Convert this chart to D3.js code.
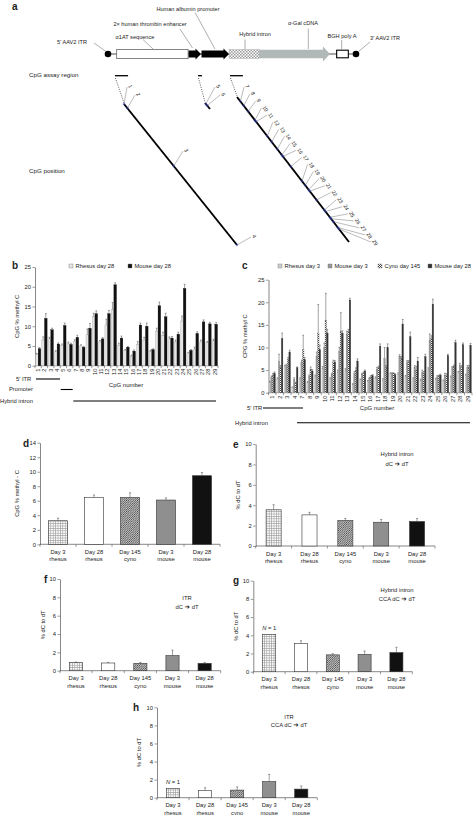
<!DOCTYPE html>
<html><head><meta charset="utf-8">
<script src="https://cdn.jsdelivr.net/npm/d3@7"></script>
<style>body{margin:0;background:#fff}svg text{font-family:"Liberation Sans",Arial,Helvetica,sans-serif;fill:#222}</style>
</head><body>
<script>
// ---------------- DATA ----------------
const cpgB = d3.range(1, 30).map(String);
const rhesus28B = [2.8,6.5,6.8,3.5,5.2,5.6,6.2,5.0,7.8,12.5,6.0,10.3,14.2,5.2,3.8,2.4,5.3,6.5,3.6,8.7,7.6,6.8,6.0,11.3,3.2,4.2,6.0,5.8,6.3];
const rhesus28BErr = [0.3,0.8,0.4,0.3,0.3,0.4,0.4,0.3,1.5,0.8,0.4,1.5,1.8,0.5,0.3,0.3,0.8,0.7,0.3,0.8,0.9,0.5,0.5,1.3,0.2,0.5,0.5,0.3,0.4];
const mouse28B = [4.3,12.0,9.1,5.5,10.2,5.4,7.2,4.7,9.5,13.2,6.8,13.2,20.5,7.0,4.7,3.7,10.3,10.0,4.1,15.2,12.4,7.0,8.0,19.6,3.9,8.2,11.1,10.6,10.5];
const mouse28BErr = [0.3,1.2,0.4,0.3,0.6,0.3,0.5,0.2,1.2,0.7,0.3,0.8,0.5,0.5,0.2,0.3,0.5,0.8,0.2,0.9,0.9,0.4,0.5,1.0,0.2,0.4,0.5,0.4,0.4];

const cpgC = ["1","2","3","4","7","8","9","10","11","12","13","14","15","16","17","18","19","20","21","22","23","24","25","26","27","28","29"];
const rhesus3C = [2.3,3.0,5.9,1.2,3.0,2.3,3.6,5.3,3.0,4.5,4.8,1.8,2.8,2.5,3.2,2.8,4.2,4.0,3.5,3.0,2.7,5.0,3.0,2.6,3.4,4.4,3.8];
const rhesus3CErr = [0.2,0.3,0.2,0.1,0.3,0.2,0.3,0.5,0.3,0.5,0.5,0.2,0.2,0.2,0.3,0.3,0.2,0.4,0.3,0.3,0.3,0.5,0.2,0.2,0.3,0.3,0.3];
const mouse3C = [3.4,7.0,6.0,3.0,6.7,3.6,8.0,10.0,4.0,9.2,12.8,4.2,4.0,3.2,5.2,7.6,4.2,8.0,6.8,5.5,4.5,11.5,3.5,3.8,5.5,6.0,5.5];
const mouse3CErr = [0.3,1.5,0.3,0.3,0.5,0.3,1.0,1.0,0.3,0.8,0.8,0.5,0.3,0.2,0.4,2.4,0.2,0.4,0.3,0.5,0.5,1.5,0.3,0.5,0.3,0.5,0.5];
const cyno145C = [3.9,5.5,7.4,2.0,9.5,5.2,13.2,16.0,6.8,13.5,13.5,5.0,4.3,3.5,5.5,5.5,4.2,7.5,6.8,5.0,4.3,12.0,3.6,3.8,5.8,5.5,5.5];
const cyno145CErr = [0.4,0.5,0.4,0.3,3.2,0.5,6.3,6.0,0.4,4.2,0.5,0.5,0.3,0.3,0.4,0.5,0.2,0.5,0.3,0.8,0.4,0.6,0.3,0.4,0.3,0.5,0.5];
const mouse28C = [4.3,12.0,9.0,5.5,7.3,4.8,9.5,13.2,6.8,13.2,20.5,7.0,4.8,3.8,10.3,10.0,4.0,15.2,12.4,7.0,8.0,19.6,3.9,8.2,11.1,10.6,10.5];
const mouse28CErr = [0.3,1.2,0.4,0.2,0.5,0.3,1.0,0.8,0.3,0.5,0.4,0.5,0.2,0.2,0.5,0.8,0.2,1.0,1.0,0.8,0.5,1.1,0.2,0.3,0.5,0.4,0.4];

const groups5 = ["Day 3|rhesus","Day 28|rhesus","Day 145|cyno","Day 3|mouse","Day 28|mouse"];
const dVals = [3.25,6.45,6.45,6.1,9.45], dErr = [0.35,0.35,0.65,0.3,0.45];
const eVals = [3.55,3.05,2.5,2.33,2.4],  eErr = [0.5,0.25,0.2,0.27,0.3];
const fVals = [0.9,0.84,0.8,1.64,0.8],   fErr = [0.05,0.06,0.1,0.6,0.1];
const gVals = [4.1,3.1,1.85,1.9,2.1],    gErr = [0,0.3,0.13,0.37,0.58];
const hVals = [1.02,0.8,0.84,1.78,0.95], hErr = [0,0.3,0.36,0.8,0.35];

// construct (panel a), positions in relative construct units 0..100
const constructEls = [
  {name:"α1AT sequence", s:3.5, e:32.3, kind:"box"},
  {name:"enhancer", s:32.3, e:37.5, kind:"blackArrow"},
  {name:"promoter", s:37.5, e:48.8, kind:"blackArrow"},
  {name:"Hybrid intron", s:48.8, e:60.9, kind:"check"},
  {name:"α-Gal cDNA", s:60.9, e:89.5, kind:"greyArrow"},
  {name:"BGH poly A", s:92.2, e:96.9, kind:"bgh"}
];
const assayRegions = [{s:2.8,e:8.1},{s:36.3,e:37.9},{s:49.2,e:54.4}];
const cpgNames = d3.range(1,30).map(String);
const cpgSeg = [0,0,0,0,1,1,2,2,2,2,2,2,2,2,2,2,2,2,2,2,2,2,2,2,2,2,2,2,2];
const cpgT = [0.0,0.03,0.44,1.0,0.15,0.45,0.03,0.06,0.1,0.16,0.17,0.27,0.31,0.36,0.4,0.41,0.48,0.58,0.61,0.64,0.65,0.71,0.78,0.79,0.83,0.84,0.86,0.9,0.91];

// ---------------- DRAW ----------------
const W = 474, H = 815;
const svg = d3.select("body").append("svg").attr("width", W).attr("height", H);
const defs = svg.append("defs");
function pat(id, size, draw) {
  const p = defs.append("pattern").attr("id", id).attr("patternUnits", "userSpaceOnUse")
    .attr("width", size).attr("height", size);
  p.append("rect").attr("width", size).attr("height", size).attr("fill", "#fff");
  draw(p);
}
pat("grid", 2.4, p => p.append("path").attr("d", "M0,0.3H2.4M0.3,0V2.4").attr("stroke", "#9a9a9a").attr("stroke-width", 0.7));
pat("hatch", 2.2, p => p.append("path").attr("d", "M0,2.2L2.2,0M-0.6,0.6L0.6,-0.6M1.6,2.8L2.8,1.6").attr("stroke", "#333").attr("stroke-width", 0.85));
pat("check", 3, p => { p.append("rect").attr("width",1.5).attr("height",1.5).attr("fill","#9a9a9a");
  p.append("rect").attr("x",1.5).attr("y",1.5).attr("width",1.5).attr("height",1.5).attr("fill","#9a9a9a"); });
pat("cdots", 2, p => { p.append("rect").attr("width",1).attr("height",1).attr("fill","#444");
  p.append("rect").attr("x",1).attr("y",1).attr("width",1).attr("height",1).attr("fill","#444"); });

function txt(g, x, y, s, size, opts = {}) {
  const t = g.append("text").attr("x", x).attr("y", y).attr("font-size", size).text(s);
  if (opts.anchor) t.attr("text-anchor", opts.anchor);
  if (opts.bold) t.attr("font-weight", "bold");
  if (opts.rotate !== undefined) t.attr("transform", `rotate(${opts.rotate},${x},${y})`);
  if (opts.dmid) t.attr("dominant-baseline", "middle");
  return t;
}

// ===== Panel a =====
const ga = svg.append("g");
txt(ga, 12, 10, "a", 10, {bold:true});
const xa = d3.scaleLinear().domain([0, 100]).range([108, 356]);
const yL = 54;
ga.append("line").attr("x1", xa(0)).attr("x2", xa(100)).attr("y1", yL).attr("y2", yL).attr("stroke", "#8a8a8a").attr("stroke-width", 1.6);
function arrowPts(x1, x2, bh, hh, hl) {
  return [[x1, yL-bh],[x2-hl, yL-bh],[x2-hl, yL-hh],[x2, yL],[x2-hl, yL+hh],[x2-hl, yL+bh],[x1, yL+bh]];
}
constructEls.forEach(el => {
  const a = xa(el.s), b = xa(el.e);
  if (el.kind === "box") ga.append("rect").attr("x", a).attr("y", yL-4.6).attr("width", b-a).attr("height", 9.2).attr("fill", "#fff").attr("stroke", "#666").attr("stroke-width", 0.8);
  if (el.kind === "blackArrow") ga.append("polygon").attr("points", arrowPts(a+0.5, b, 3.6, 5.6, 5.5).join(" ")).attr("fill", "#000");
  if (el.kind === "check") ga.append("rect").attr("x", a).attr("y", yL-4.4).attr("width", b-a).attr("height", 8.8).attr("fill", "url(#check)").attr("stroke", "#999").attr("stroke-width", 0.4);
  if (el.kind === "greyArrow") ga.append("polygon").attr("points", arrowPts(a, b, 4.3, 7.5, 7).join(" ")).attr("fill", "#b1b8b8");
  if (el.kind === "bgh") ga.append("rect").attr("x", a).attr("y", yL-3.8).attr("width", b-a).attr("height", 7.6).attr("fill", "#fff").attr("stroke", "#000").attr("stroke-width", 1.1);
});
[0, 100].forEach(v => ga.append("circle").attr("cx", xa(v)).attr("cy", yL).attr("r", 3.3).attr("fill", "#000"));

const aLabels = [
  {t:"5′ AAV2 ITR", x:72, y:43, l:[[94,43],[106,51.5]]},
  {t:"α1AT sequence", x:135, y:37.5, l:[[143,39.5],[153,49]]},
  {t:"2× human thrombin enhancer", x:150, y:25, l:[[180,29],[192.5,48]]},
  {t:"Human albumin promoter", x:188, y:9.5, l:[[195,12.5],[215,49]]},
  {t:"Hybrid intron", x:255, y:35, l:[[245,39.5],[245,49.5]]},
  {t:"α-Gal cDNA", x:303, y:24, l:[[308.3,28.5],[308.3,49]]},
  {t:"BGH poly A", x:342, y:36.5, l:[[341.7,40],[341.7,50]]},
  {t:"3′ AAV2 ITR", x:385, y:38.5, l:[[370,42],[358.5,51.5]]}
];
aLabels.forEach(d => {
  txt(ga, d.x, d.y, d.t, 5.6, {anchor:"middle", dmid:true});
  ga.append("line").attr("x1", d.l[0][0]).attr("y1", d.l[0][1]).attr("x2", d.l[1][0]).attr("y2", d.l[1][1]).attr("stroke", "#777").attr("stroke-width", 0.6);
});
txt(ga, 29, 75, "CpG assay region", 6.2, {dmid:true});
txt(ga, 29, 171, "CpG position", 6.2, {dmid:true});
assayRegions.forEach(r => ga.append("line").attr("x1", xa(r.s)).attr("x2", xa(r.e)).attr("y1", 75.7).attr("y2", 75.7).attr("stroke", "#000").attr("stroke-width", 1.3));

const segs = [ {a:[124,104], b:[237,245]}, {a:[205,103], b:[210,109]}, {a:[237,97], b:[349,242]} ];
assayRegions.forEach((r, i) => ga.append("line").attr("x1", xa(r.s)+0.5).attr("y1", 78).attr("x2", segs[i].a[0]).attr("y2", segs[i].a[1]-1)
  .attr("stroke", "#333").attr("stroke-width", 0.8).attr("stroke-dasharray", "1,1.3"));
segs.forEach(s => ga.append("line").attr("x1", s.a[0]).attr("y1", s.a[1]).attr("x2", s.b[0]).attr("y2", s.b[1]).attr("stroke", "#000").attr("stroke-width", 1.9));
const lblPos = [];
const fixed = {0:[128,86],1:[136,94],2:[184,150],3:[252,236],4:[216,86],5:[221,94]};
cpgNames.forEach((n, i) => {
  if (fixed[i]) lblPos.push(fixed[i]);
  else { const k = (i - 6) / 22; lblPos.push([245 + k * 127, 86 + k * 155]); }
});
cpgNames.forEach((n, i) => {
  const s = segs[cpgSeg[i]], t = cpgT[i];
  const px = s.a[0] + t * (s.b[0] - s.a[0]), py = s.a[1] + t * (s.b[1] - s.a[1]);
  const [lx, ly] = lblPos[i];
  ga.append("line").attr("x1", px).attr("y1", py).attr("x2", lx - 1).attr("y2", ly + 1).attr("stroke", "#666").attr("stroke-width", 0.45);
  ga.append("circle").attr("cx", px).attr("cy", py).attr("r", 0.9).attr("fill", "none").attr("stroke", "#3344cc").attr("stroke-width", 0.5);
  txt(ga, lx, ly, n, 5.2, {rotate:60});
});

// ===== helpers for axes =====
function yAxis(g, x0, y, ticks, title, tx) {
  const ax = g.append("g").attr("transform", `translate(${x0},0)`)
    .call(d3.axisLeft(y).tickValues(ticks).tickSize(2.5).tickSizeOuter(0).tickFormat(d3.format("d")));
  ax.select(".domain").attr("stroke", "#555").attr("stroke-width", 0.7);
  ax.selectAll(".tick line").attr("stroke", "#555").attr("stroke-width", 0.6);
  ax.selectAll(".tick text").attr("font-size", 5.8).attr("fill", "#333").attr("x", -4);
  const [y0, y1] = y.range();
  txt(g, tx, (y0 + y1) / 2, title, 5.8, {anchor:"middle", rotate:-90});
}
function xBase(g, x, y0, boundaries) {
  const [a, b] = x.range();
  g.append("line").attr("x1", a).attr("x2", b).attr("y1", y0).attr("y2", y0).attr("stroke", "#555").attr("stroke-width", 0.7);
  if (boundaries) {
    const n = x.domain().length, st = (b - a) / n;
    d3.range(n + 1).forEach(i => g.append("line").attr("x1", a + i * st).attr("x2", a + i * st).attr("y1", y0).attr("y2", y0 + 2.5).attr("stroke", "#555").attr("stroke-width", 0.6));
  }
}
function errBar(g, cx, yv, ye, cap) {
  if (Math.abs(yv - ye) < 0.3) return;
  g.append("line").attr("x1", cx).attr("x2", cx).attr("y1", yv).attr("y2", ye).attr("stroke", "#444").attr("stroke-width", 0.5);
  g.append("line").attr("x1", cx - cap).attr("x2", cx + cap).attr("y1", ye).attr("y2", ye).attr("stroke", "#444").attr("stroke-width", 0.5);
}

// ===== grouped panels (b, c) =====
function grouped(cfg) {
  const g = svg.append("g");
  const x = d3.scaleBand().domain(cfg.cats).range([cfg.x0, cfg.x1]).paddingInner(cfg.pad).paddingOuter(cfg.pad / 2);
  const xs = d3.scaleBand().domain(d3.range(cfg.series.length)).range([0, x.bandwidth()]);
  const y = d3.scaleLinear().domain([0, 25]).range([cfg.y0, cfg.yT]);
  yAxis(g, cfg.x0, y, [0,5,10,15,20,25], cfg.title, cfg.tx);
  xBase(g, x, cfg.y0, true);
  cfg.series.forEach((s, si) => {
    cfg.cats.forEach((c, i) => {
      const bx = x(c) + xs(si), bw = xs.bandwidth();
      g.append("rect").attr("x", bx).attr("y", y(s.vals[i])).attr("width", bw).attr("height", y(0) - y(s.vals[i]))
        .attr("fill", s.fill).attr("stroke", s.stroke).attr("stroke-width", 0.3);
      errBar(g, bx + bw / 2, y(s.vals[i]), y(s.vals[i] + s.errs[i]), 0.9);
    });
  });
  cfg.cats.forEach(c => txt(g, x(c) + x.bandwidth() / 2 + 1.8, cfg.y0 + 3, c, 5.6, {anchor:"end", rotate:-90}));
  cfg.series.forEach(s => {
    g.append("rect").attr("x", s.lx).attr("y", cfg.ly - 2).attr("width", 4).attr("height", 4).attr("fill", s.fill).attr("stroke", "#777").attr("stroke-width", 0.4);
    txt(g, s.lx + 6.5, cfg.ly, s.name, 5.8, {dmid:true});
  });
  return {g, x, y};
}

const pb = grouped({cats: cpgB, x0: 35, x1: 218, y0: 365.7, yT: 267, pad: 0.16, title: "CpG % methyl C", tx: 19, ly: 266,
  series: [
    {name: "Rhesus day 28", vals: rhesus28B, errs: rhesus28BErr, fill: "#e4e4e4", stroke: "#999", lx: 69},
    {name: "Mouse day 28", vals: mouse28B, errs: mouse28BErr, fill: "#111", stroke: "#111", lx: 128}
  ]});
txt(pb.g, 12, 268.5, "b", 10, {bold:true});
txt(pb.g, 126, 385, "CpG number", 6, {anchor:"middle", dmid:true});
[["5′ ITR", 379, 36, 60], ["Promoter", 389.5, 60.7, 72.7], ["Hybrid intron", 401, 73.3, 216]].forEach(([t, yy, a, b]) => {
  txt(pb.g, t === "Hybrid intron" ? 0 : (t === "Promoter" ? 9 : 16), yy, t, 5.8, {dmid:true});
  pb.g.append("line").attr("x1", a).attr("x2", b).attr("y1", yy).attr("y2", yy).attr("stroke", "#000").attr("stroke-width", 1.1);
});

const pc = grouped({cats: cpgC, x0: 268.5, x1: 472, y0: 392.7, yT: 279.7, pad: 0.18, title: "CPG % methyl C", tx: 247, ly: 266,
  series: [
    {name: "Rhesus day 3", vals: rhesus3C, errs: rhesus3CErr, fill: "#cdcdcd", stroke: "#aaa", lx: 278},
    {name: "Mouse day 3", vals: mouse3C, errs: mouse3CErr, fill: "#969696", stroke: "#888", lx: 328},
    {name: "Cyno day 145", vals: cyno145C, errs: cyno145CErr, fill: "url(#cdots)", stroke: "#666", lx: 378},
    {name: "Mouse day 28", vals: mouse28C, errs: mouse28CErr, fill: "#333", stroke: "#333", lx: 428}
  ]});
txt(pc.g, 242, 269, "c", 10, {bold:true});
txt(pc.g, 377, 408, "CpG number", 6, {anchor:"middle", dmid:true});
txt(pc.g, 247, 408, "5′ ITR", 5.8, {dmid:true});
pc.g.append("line").attr("x1", 263).attr("x2", 303).attr("y1", 408).attr("y2", 408).attr("stroke", "#000").attr("stroke-width", 1.1);
txt(pc.g, 235, 423, "Hybrid intron", 5.8, {dmid:true});
pc.g.append("line").attr("x1", 297).attr("x2", 470).attr("y1", 422.7).attr("y2", 422.7).attr("stroke", "#000").attr("stroke-width", 1.1);

// ===== simple panels (d-h) =====
const fills5 = ["url(#grid)", "#fff", "url(#hatch)", "#8f8f8f", "#111"];
function note(g, x, y, parts) {
  const t = g.append("text").attr("x", x).attr("y", y).attr("text-anchor", "middle").attr("dominant-baseline", "middle").attr("font-size", 5.8);
  parts.forEach(p => {
    const sp = t.append("tspan").text(p);
    if (p.includes("➔")) sp.attr("font-family", "DejaVu Sans").attr("font-size", 6.5);
  });
}
function simple(cfg) {
  const g = svg.append("g");
  const x = d3.scaleBand().domain(groups5).range([cfg.x0, cfg.x1]).paddingInner(cfg.pad).paddingOuter(cfg.pad / 2);
  const y = d3.scaleLinear().domain([0, cfg.max]).range([cfg.y0, cfg.yT]);
  yAxis(g, cfg.x0, y, d3.range(0, cfg.max + 0.01, 2), cfg.title, cfg.tx);
  xBase(g, x, cfg.y0, true);
  groups5.forEach((c, i) => {
    const v = cfg.vals[i];
    g.append("rect").attr("x", x(c)).attr("y", y(v)).attr("width", x.bandwidth()).attr("height", y(0) - y(v))
      .attr("fill", fills5[i]).attr("stroke", "#333").attr("stroke-width", 0.6);
    if (cfg.errs[i] > 0) errBar(g, x(c) + x.bandwidth() / 2, y(v), y(v + cfg.errs[i]), 1.1);
    const [l1, l2] = c.split("|");
    txt(g, x(c) + x.bandwidth() / 2, cfg.y0 + 9.5, l1, 5.8, {anchor:"middle"});
    txt(g, x(c) + x.bandwidth() / 2, cfg.y0 + 17, l2, 5.8, {anchor:"middle"});
  });
  txt(g, cfg.lbl[0], cfg.lbl[1], cfg.lbl[2], 10, {bold:true});
  (cfg.notes || []).forEach(n => note(g, n[0], n[1], n[2]));
  if (cfg.n1) {
    const t = g.append("text").attr("x", x(groups5[0]) + x.bandwidth() / 2).attr("y", y(cfg.vals[0]) - 4).attr("text-anchor", "middle").attr("font-size", 5.8);
    t.append("tspan").attr("font-style", "italic").text("N");
    t.append("tspan").text(" = 1");
  }
  return g;
}
simple({x0: 40, x1: 220, y0: 544.3, yT: 442.7, max: 14, vals: dVals, errs: dErr, pad: 0.47, title: "CpG % methyl - C", tx: 19, lbl: [23, 447, "d"]});
simple({x0: 255.7, x1: 435, y0: 546, yT: 444, max: 10, vals: eVals, errs: eErr, pad: 0.58, title: "% dC to dT", tx: 239.5, lbl: [233, 448, "e"],
  notes: [[397, 453.5, ["Hybrid intron"]], [397, 463.5, ["dC ", "➔", " dT"]]]});
simple({x0: 60, x1: 220.7, y0: 670.7, yT: 579, max: 10, vals: fVals, errs: fErr, pad: 0.59, title: "% dC to dT", tx: 45, lbl: [44, 583, "f"],
  notes: [[187, 597.5, ["ITR"]], [187, 606.5, ["dC ", "➔", " dT"]]]});
simple({x0: 253.3, x1: 412.3, y0: 671.7, yT: 580.7, max: 10, vals: gVals, errs: gErr, pad: 0.59, title: "% dC to dT", tx: 238, lbl: [233, 584, "g"],
  notes: [[397, 590, ["Hybrid intron"]], [397, 599, ["CCA dC ", "➔", " dT"]]], n1: true});
simple({x0: 157, x1: 317.3, y0: 797.7, yT: 707.3, max: 10, vals: hVals, errs: hErr, pad: 0.59, title: "% dC to dT", tx: 141, lbl: [133, 711, "h"],
  notes: [[289, 716.7, ["ITR"]], [289, 725, ["CCA dC ", "➔", " dT"]]], n1: true});
</script>
</body></html>
